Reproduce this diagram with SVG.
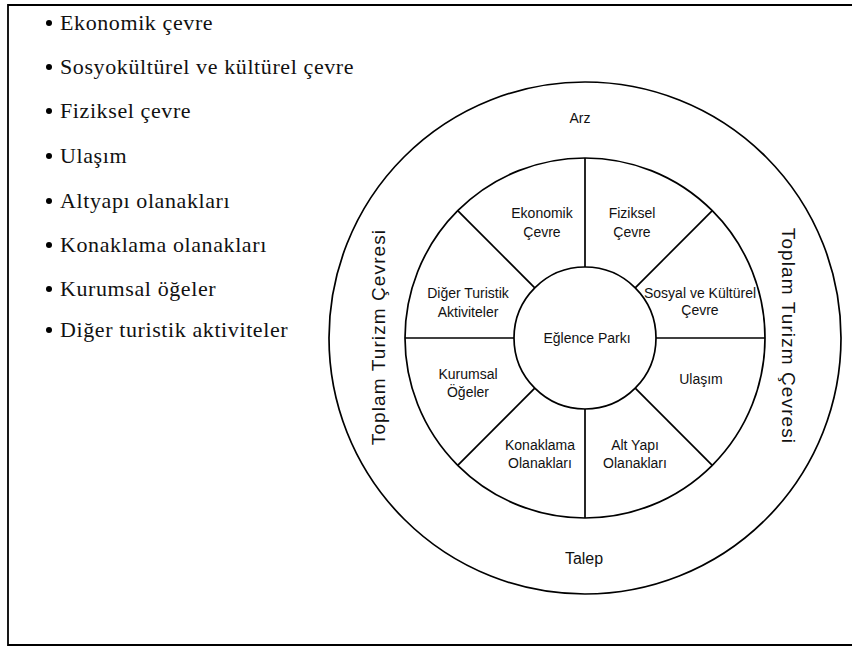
<svg xmlns="http://www.w3.org/2000/svg" width="852" height="650" viewBox="0 0 852 650">
<style>
.frame{fill:none;stroke:#000;stroke-width:1.8}
.ring{fill:none;stroke:#000;stroke-width:1.7}
.spoke{stroke:#000;stroke-width:1.7}
.list{font-family:"Liberation Serif","Times New Roman",serif;font-size:22px;letter-spacing:0.6px;fill:#111}
.lbl{font-family:"Liberation Sans",Arial,sans-serif;font-size:14px;fill:#111;text-anchor:middle}
.big{font-family:"Liberation Sans",Arial,sans-serif;font-size:19px;letter-spacing:1.1px;fill:#111;text-anchor:middle}
</style>
<rect width="852" height="650" fill="#fff"/>
<path class="frame" d="M852,5 H8 V645 H852"/>
<g id="list">
<circle cx="49" cy="23" r="3"/><text class="list" x="60" y="30">Ekonomik çevre</text>
<circle cx="49" cy="67" r="3"/><text class="list" x="60" y="74">Sosyokültürel ve kültürel çevre</text>
<circle cx="49" cy="111" r="3"/><text class="list" x="60" y="118">Fiziksel çevre</text>
<circle cx="49" cy="156" r="3"/><text class="list" x="60" y="163">Ulaşım</text>
<circle cx="49" cy="201" r="3"/><text class="list" x="60" y="208">Altyapı olanakları</text>
<circle cx="49" cy="245" r="3"/><text class="list" x="60" y="252">Konaklama olanakları</text>
<circle cx="49" cy="289" r="3"/><text class="list" x="60" y="296">Kurumsal öğeler</text>
<circle cx="49" cy="330" r="3"/><text class="list" x="60" y="337">Diğer turistik aktiviteler</text>
</g>
<g id="outer">
<circle class="ring" cx="585" cy="338" r="256"/>
<text class="lbl" x="580" y="123" style="font-size:14px">Arz</text>
<text class="lbl" x="584" y="564" style="font-size:16px">Talep</text>
<text class="big" transform="translate(385,337) rotate(-90)">Toplam Turizm Çevresi</text>
<text class="big" transform="translate(782,336) rotate(90)">Toplam Turizm Çevresi</text>
</g>
<g id="middle">
<circle class="ring" cx="585" cy="338" r="180"/>
</g>
<g id="connectors">
<line class="spoke" x1="585" y1="267" x2="585" y2="158"/>
<line class="spoke" x1="585" y1="409" x2="585" y2="518"/>
<line class="spoke" x1="656" y1="338" x2="765" y2="338"/>
<line class="spoke" x1="514" y1="338" x2="405" y2="338"/>
<line class="spoke" x1="635.2" y1="287.8" x2="712.3" y2="210.7"/>
<line class="spoke" x1="534.8" y1="287.8" x2="457.7" y2="210.7"/>
<line class="spoke" x1="534.8" y1="388.2" x2="457.7" y2="465.3"/>
<line class="spoke" x1="635.2" y1="388.2" x2="712.3" y2="465.3"/>
</g>
<g id="center">
<circle class="ring" cx="585" cy="338" r="71" fill="#fff"/>
<text class="lbl" x="587" y="343">Eğlence Parkı</text>
</g>
<g id="ekonomik"><text class="lbl" x="542" y="218">Ekonomik</text><text class="lbl" x="542" y="237">Çevre</text></g>
<g id="fiziksel"><text class="lbl" x="632" y="218">Fiziksel</text><text class="lbl" x="632" y="237">Çevre</text></g>
<g id="sosyal"><text class="lbl" x="700" y="298">Sosyal ve Kültürel</text><text class="lbl" x="700" y="315">Çevre</text></g>
<g id="ulasim"><text class="lbl" x="701" y="384">Ulaşım</text></g>
<g id="altyapi"><text class="lbl" x="635" y="450">Alt Yapı</text><text class="lbl" x="635" y="468">Olanakları</text></g>
<g id="konaklama"><text class="lbl" x="540" y="450">Konaklama</text><text class="lbl" x="540" y="468">Olanakları</text></g>
<g id="kurumsal"><text class="lbl" x="468" y="379">Kurumsal</text><text class="lbl" x="468" y="397">Öğeler</text></g>
<g id="diger"><text class="lbl" x="468" y="298">Diğer Turistik</text><text class="lbl" x="468" y="317">Aktiviteler</text></g>
</svg>
